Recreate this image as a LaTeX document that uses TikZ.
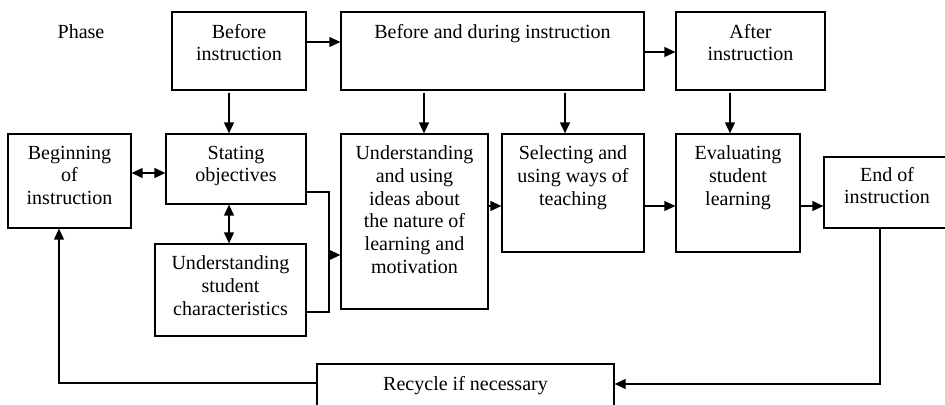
\documentclass[tikz,border=0pt]{standalone}
\usepackage{fontspec}
\setmainfont{Liberation Serif}
\usetikzlibrary{arrows.meta,positioning}
\tikzset{
  box/.style={draw,inner sep=0pt},
  sz/.style 2 args={minimum width=#1*0.2mm,minimum height=#2*0.2mm},
  boxtext/.style={anchor=north,align=center,inner sep=0pt,yshift=-2.4mm},
}

\begin{document}
\begin{tikzpicture}[x=0.2mm,y=-0.2mm,font=\fontsize{11.4}{12.9}\selectfont,
    >={Triangle[length=6.2pt,width=5.6pt]},line width=0.7pt]
  \useasboundingbox (0,0) rectangle (945,405);
  % phases
  \node (phase) at (81,32) {Phase};
  \node[box,sz={134}{78},label={[boxtext]north:Before\\instruction}] (bef) at (239,51) {};
  \node[box,sz={303}{78},label={[boxtext]north:Before and during instruction}] (bdi) at (492.5,51) {};
  \node[box,sz={149}{78},label={[boxtext]north:After\\instruction}] (aft) at (750.5,51) {};
  % steps
  \node[box,sz={123}{94},label={[boxtext]north:Beginning\\of\\instruction}] (beg) at (69.5,181) {};
  \node[box,sz={140}{70},label={[boxtext]north:Stating\\objectives}] (stat) at (236,169) {};
  \node[box,sz={151}{92},label={[boxtext]north:Understanding\\student\\characteristics}] (char) at (230.5,290) {};
  \node[box,sz={147}{175},label={[boxtext]north:Understanding\\and using\\ideas about\\the nature of\\learning and\\motivation}] (ideas) at (414.5,221.5) {};
  \node[box,sz={142}{118},label={[boxtext]north:Selecting and\\using ways of\\teaching}] (sel) at (573,193) {};
  \node[box,sz={124}{118},label={[boxtext]north:Evaluating\\student\\learning}] (eval) at (738,193) {};
  \node[box,sz={126}{71},label={[boxtext,yshift=0.4mm]north:End of\\instruction}] (endi) at (887,192.5) {};
  \node[box,sz={297}{44},label={[boxtext]north:Recycle if necessary}] (rec) at (465.5,386) {};
  % phase arrows
  \draw[->] (bef.east |- 0,42) -- (bdi.west |- 0,42);
  \draw[->] (bdi.east |- 0,52) -- (aft.west |- 0,52);
  \draw[->] (bef.south -| 229,0) ++(0,2) -- (stat.north -| 229,0);
  \draw[->] (bdi.south -| 424,0) ++(0,2) -- (ideas.north -| 424,0);
  \draw[->] (bdi.south -| 565,0) ++(0,2) -- (sel.north -| 565,0);
  \draw[->] (aft.south -| 730,0) ++(0,2) -- (eval.north -| 730,0);
  % step arrows
  \draw[<->] (beg.east |- 0,173) -- (stat.west |- 0,173);
  \draw[<->] (stat.south -| 229,0) -- (char.north -| 229,0);
  \coordinate (join) at (329,255);
  \draw (stat.east |- 0,192) -| (join) |- (char.east |- 0,312);
  \draw[->] (join) -- (ideas.west |- join);
  \foreach \a/\b in {ideas/sel,sel/eval,eval/endi}
    \draw[->] (\a.east |- 0,206) -- (\b.west |- 0,206);
  % recycle loop
  \draw[->] (endi.south -| 880,0) |- (rec.east |- 0,384);
  \draw[->] (rec.west |- 0,383) -| (beg.south -| 59,0);
\end{tikzpicture}
\end{document}
